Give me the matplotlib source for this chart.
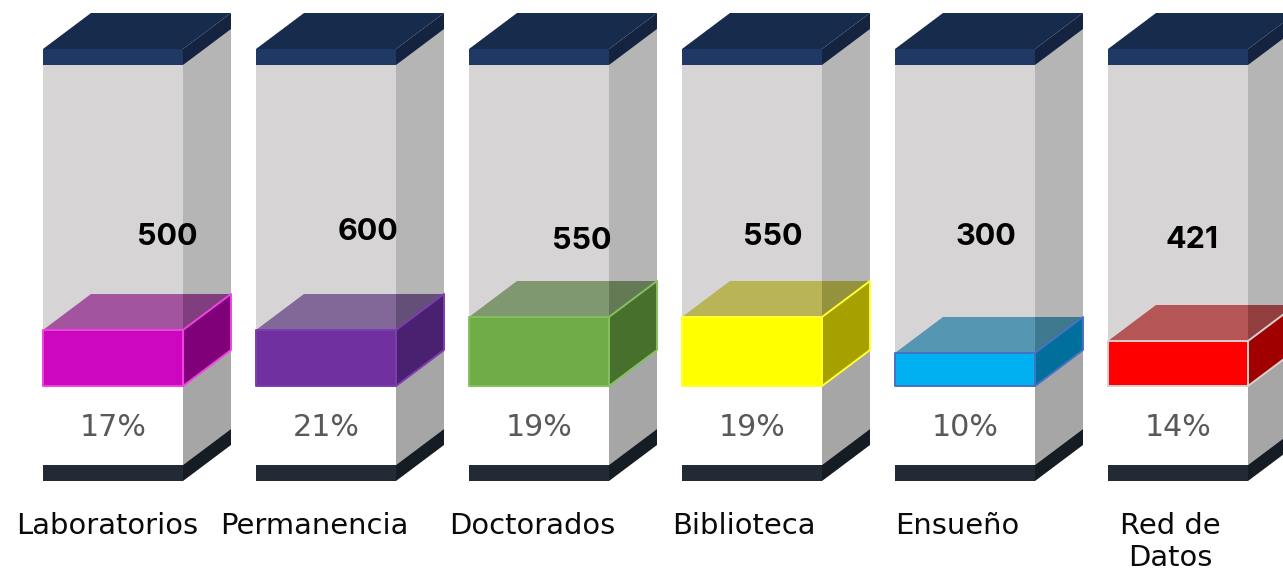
import matplotlib
matplotlib.use("Agg")
import matplotlib.pyplot as plt
from matplotlib.patches import Polygon

categories = ["Laboratorios", "Permanencia", "Doctorados", "Biblioteca", "Ensueño", "Red de\nDatos"]
values = [500, 600, 550, 550, 300, 421]
percents = [17, 21, 19, 19, 10, 14]
fill_levels = [56, 56, 69, 69, 33, 45]

front_colors = ["#cc07bd", "#7030a0", "#70ad47", "#ffff00", "#00b0f0", "#ff0000"]
side_colors = ["#80007a", "#4a2070", "#47702c", "#a6a000", "#006f9c", "#a00000"]
edge_colors = ["#ee44e0", "#7d3cb0", "#85c060", "#ffff30", "#4472c4", "#d8d0d0"]

# layout (one x unit = one column slot, y unit = pixel above the fill floor)
SLOT = 213.0
LEFT = 43.0
W = 140 / SLOT
DX = 48 / SLOT
DY = 36
FLOOR = 0
BASE_TOP = -79
BASE_BOT = -95
BODY_TOP = 321
CAP_TOP = 337

value_dx = [54, 42, 43, 21, 21, 14]
value_y = [149, 154, 145, 149, 149, 146]
label_dx = [-6, -12, -7, -8, -8, -8]

fig = plt.figure(figsize=(12.83, 5.72), dpi=100, facecolor="white")
ax = fig.add_axes([0, 0, 1, 1])
ax.set_xlim(-LEFT / SLOT, (1283 - LEFT) / SLOT)
ax.set_ylim(-186, 386)
ax.axis("off")


def poly(pts, color, z, alpha=None, ec="none", lw=0):
    ax.add_patch(Polygon(pts, closed=True, facecolor=color, edgecolor=ec, linewidth=lw,
                         alpha=alpha, zorder=z, joinstyle="round"))


for i, cat in enumerate(categories):
    x0, x1 = i, i + W
    # glass body and lower section
    poly([(x0, FLOOR), (x1, FLOOR), (x1, BODY_TOP), (x0, BODY_TOP)], "#d6d4d5", 1)
    poly([(x1, FLOOR), (x1 + DX, FLOOR + DY), (x1 + DX, CAP_TOP + DY), (x1, BODY_TOP)], "#b5b5b5", 1)
    poly([(x1, BASE_TOP), (x1 + DX, BASE_TOP + DY), (x1 + DX, FLOOR + DY), (x1, FLOOR)], "#a6a6a6", 1)
    # base
    poly([(x0, BASE_BOT), (x1, BASE_BOT), (x1, BASE_TOP), (x0, BASE_TOP)], "#222b35", 2)
    poly([(x1, BASE_BOT), (x1 + DX, BASE_BOT + DY), (x1 + DX, BASE_TOP + DY), (x1, BASE_TOP)], "#151c24", 2)
    # cap
    poly([(x0, BODY_TOP), (x1, BODY_TOP), (x1, CAP_TOP), (x0, CAP_TOP)], "#1f3864", 2)
    poly([(x0, CAP_TOP), (x0 + DX, CAP_TOP + DY), (x1 + DX, CAP_TOP + DY), (x1, CAP_TOP)], "#172b4d", 2)
    poly([(x1, BODY_TOP), (x1 + DX, BODY_TOP + DY), (x1 + DX, CAP_TOP + DY), (x1, CAP_TOP)], "#14233f", 2)
    # coloured fill block
    h = fill_levels[i]
    c, s, e = front_colors[i], side_colors[i], edge_colors[i]
    poly([(x0, h), (x0 + DX, h + DY), (x1 + DX, h + DY), (x1, h)], s, 3, alpha=0.6)
    poly([(x1, h), (x1 + DX, h + DY), (x1, h + DY)], "black", 3.5, alpha=0.13)
    poly([(x1, FLOOR), (x1 + DX, FLOOR + DY), (x1 + DX, h + DY), (x1, h)], s, 4, ec=e, lw=1.4)
    poly([(x0, FLOOR), (x1, FLOOR), (x1, h), (x0, h)], c, 5, ec=e, lw=1.4)
    # text
    ax.text(x0 + W / 2, -41, f"{percents[i]}%", ha="center", va="center", fontsize=21.7,
            color="#595959", family="DejaVu Sans", zorder=6)
    ax.text(x0 + W / 2 + value_dx[i] / SLOT, value_y[i], str(values[i]), ha="center", va="center",
            fontsize=22, fontweight="bold", color="black", family="Inter", zorder=6)
    ax.text(x0 + W / 2 + label_dx[i] / SLOT, -126, cat, ha="center", va="top", fontsize=20.9,
            color="#0a0a0a", family="DejaVu Sans", linespacing=1.18, zorder=6)

fig.savefig("out.png", dpi=100, facecolor="white")
